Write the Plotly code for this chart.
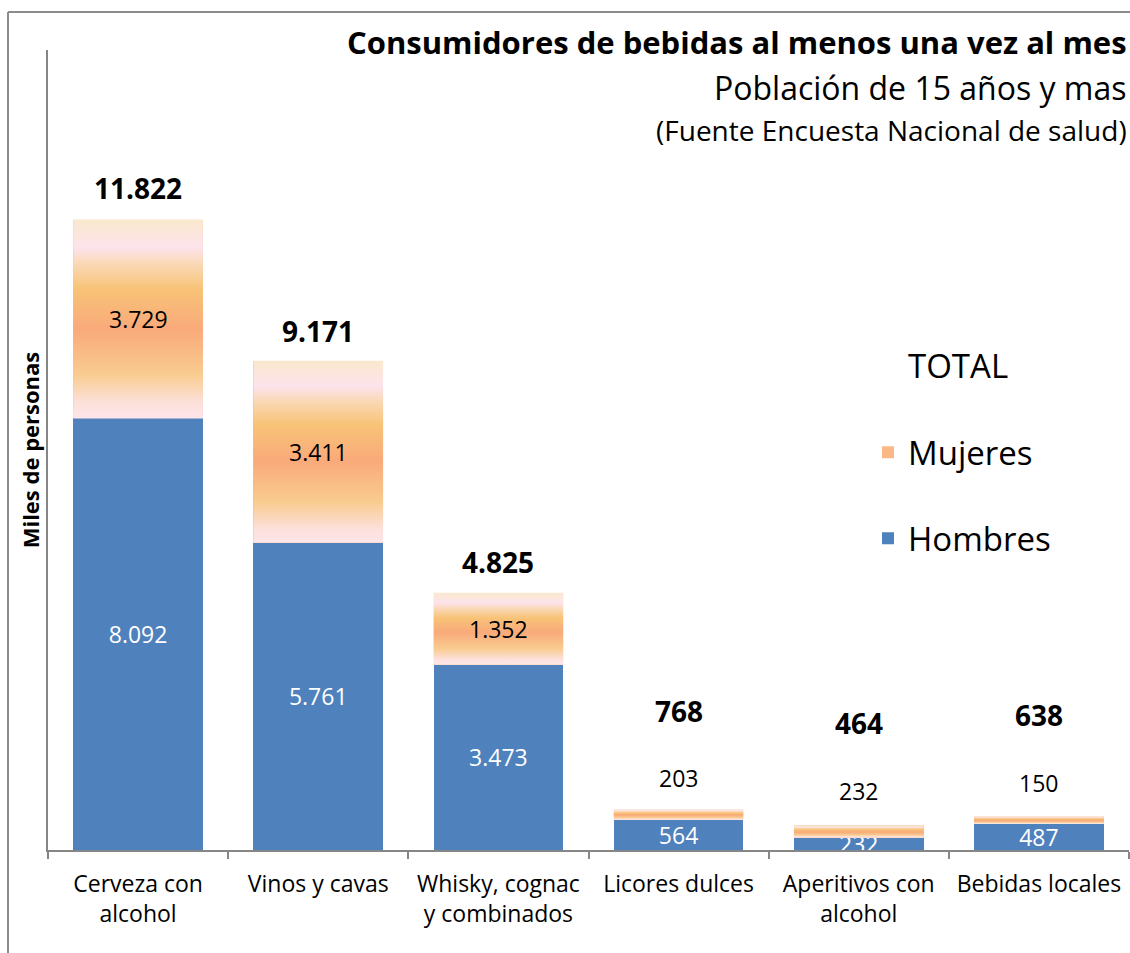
import plotly.graph_objects as go

categories = ["Cerveza con<br>alcohol", "Vinos y cavas", "Whisky, cognac<br>y combinados",
              "Licores dulces", "Aperitivos con<br>alcohol", "Bebidas locales"]
hombres = [8092, 5761, 3473, 564, 232, 487]
mujeres = [3729, 3411, 1352, 203, 232, 150]
totales = [11822, 9171, 4825, 768, 464, 638]

# label offsets in pixels (style, not data)
total_shift = [31, 30, 31, 98, 102, 101]
muj_shift = [0, 0, 0, 37, 40, 37]

FONT = "Open Sans"
BAR_W = 0.72
xs = list(range(len(categories)))

def fmt(v):
    return f"{v:,}".replace(",", ".")

grad = [[0.0, "#FDE6EA"], [0.08, "#FCE0DA"], [0.22, "#F9CC90"], [0.45, "#F9AA7A"],
        [0.65, "#F8C377"], [0.78, "#FAD9B8"], [0.86, "#FDE3EC"], [1.0, "#FAE8CD"]]

fig = go.Figure()
fig.add_trace(go.Bar(
    x=xs, y=hombres, name="Hombres", width=BAR_W,
    marker=dict(color="#4F81BD", line=dict(width=0)),
    text=[fmt(v) for v in hombres], textposition="inside", insidetextanchor="middle",
    constraintext="none", textangle=0,
    textfont=dict(family=FONT, size=23, color="white"),
    legendgroup="h", legendrank=2,
))
fig.add_trace(go.Bar(
    x=xs, y=mujeres, name="Mujeres", width=BAR_W,
    marker=dict(color="#F9B885", line=dict(width=0)),
    legendgroup="m", legendrank=1,
))
# gradient overlay for the Mujeres segments
for i, (h, m) in enumerate(zip(hombres, mujeres)):
    x0, x1 = xs[i] - BAR_W / 2, xs[i] + BAR_W / 2
    fig.add_trace(go.Scatter(
        x=[x0, x1, x1, x0, x0], y=[h, h, h + m, h + m, h],
        mode="lines", line=dict(width=0), fill="toself",
        fillgradient=dict(type="vertical", colorscale=grad),
        showlegend=False, hoverinfo="skip",
    ))

annotations = []
for i in xs:
    annotations.append(dict(
        x=xs[i], y=hombres[i] + mujeres[i] / 2, yshift=muj_shift[i], text=fmt(mujeres[i]),
        showarrow=False, font=dict(family=FONT, size=23, color="black"),
        xanchor="center", yanchor="middle"))
    annotations.append(dict(
        x=xs[i], y=totales[i], yshift=total_shift[i], text="<b>" + fmt(totales[i]) + "</b>",
        showarrow=False, font=dict(family=FONT, size=28, color="black"),
        xanchor="center", yanchor="middle"))

annotations += [
    dict(x=1, xref="paper", y=1.01, yref="paper", xanchor="right", yanchor="middle",
         text="<b>Consumidores de bebidas al menos una vez al mes</b>", showarrow=False,
         font=dict(family=FONT, size=31, color="black")),
    dict(x=1, xref="paper", y=0.9525, yref="paper", xanchor="right", yanchor="middle",
         text="Población de 15 años y mas", showarrow=False,
         font=dict(family=FONT, size=32, color="black")),
    dict(x=1, xref="paper", y=0.9, yref="paper", xanchor="right", yanchor="middle",
         text="(Fuente Encuesta Nacional de salud)", showarrow=False,
         font=dict(family=FONT, size=28, color="black")),
    dict(x=(958 - 48) / 1081, xref="paper", y=(850 - 365) / 800, yref="paper",
         xanchor="center", yanchor="middle", text="TOTAL", showarrow=False,
         font=dict(family=FONT, size=33, color="black")),
]

shapes = [
    dict(type="line", xref="paper", yref="paper", x0=(8 - 48) / 1081, x1=1.02,
         y0=(850 - 12) / 800, y1=(850 - 12) / 800, line=dict(color="#8C8C8C", width=2)),
    dict(type="line", xref="paper", yref="paper", x0=(8 - 48) / 1081, x1=(8 - 48) / 1081,
         y0=-0.2, y1=(850 - 12) / 800, line=dict(color="#8C8C8C", width=2)),
]

fig.update_layout(
    width=1130, height=953,
    barmode="stack", bargap=0.28,
    paper_bgcolor="white", plot_bgcolor="white",
    margin=dict(l=48, r=1, t=50, b=103),
    separators=",.",
    font=dict(family=FONT, color="black"),
    showlegend=True,
    legend=dict(x=(868 - 48) / 1081, xanchor="left", y=0.532, yanchor="top",
                traceorder="grouped", tracegroupgap=40,
                font=dict(family=FONT, size=33, color="black"),
                bgcolor="rgba(0,0,0,0)"),
    annotations=annotations,
    shapes=shapes,
    xaxis=dict(range=[-0.5, 5.5], tickvals=xs, ticktext=categories, ticks="",
               showline=True, linecolor="#868686", linewidth=2, showgrid=False, zeroline=False,
               ticklabelstandoff=12,
               tickfont=dict(family=FONT, size=23, color="black"),
               minor=dict(tickvals=[v - 0.5 for v in xs] + [5.5], ticks="outside",
                          ticklen=7, tickcolor="#868686", tickwidth=2, showgrid=False)),
    yaxis=dict(range=[0, 15000], showticklabels=False, ticks="", showgrid=False,
               zeroline=False, showline=True, linecolor="#868686", linewidth=2,
               title=dict(text="<b>Miles de personas</b>", standoff=0,
                          font=dict(family=FONT, size=22, color="black"))),
)

fig.write_html("out.html", config={"displayModeBar": False},
               post_script="document.body.style.margin='0';")
